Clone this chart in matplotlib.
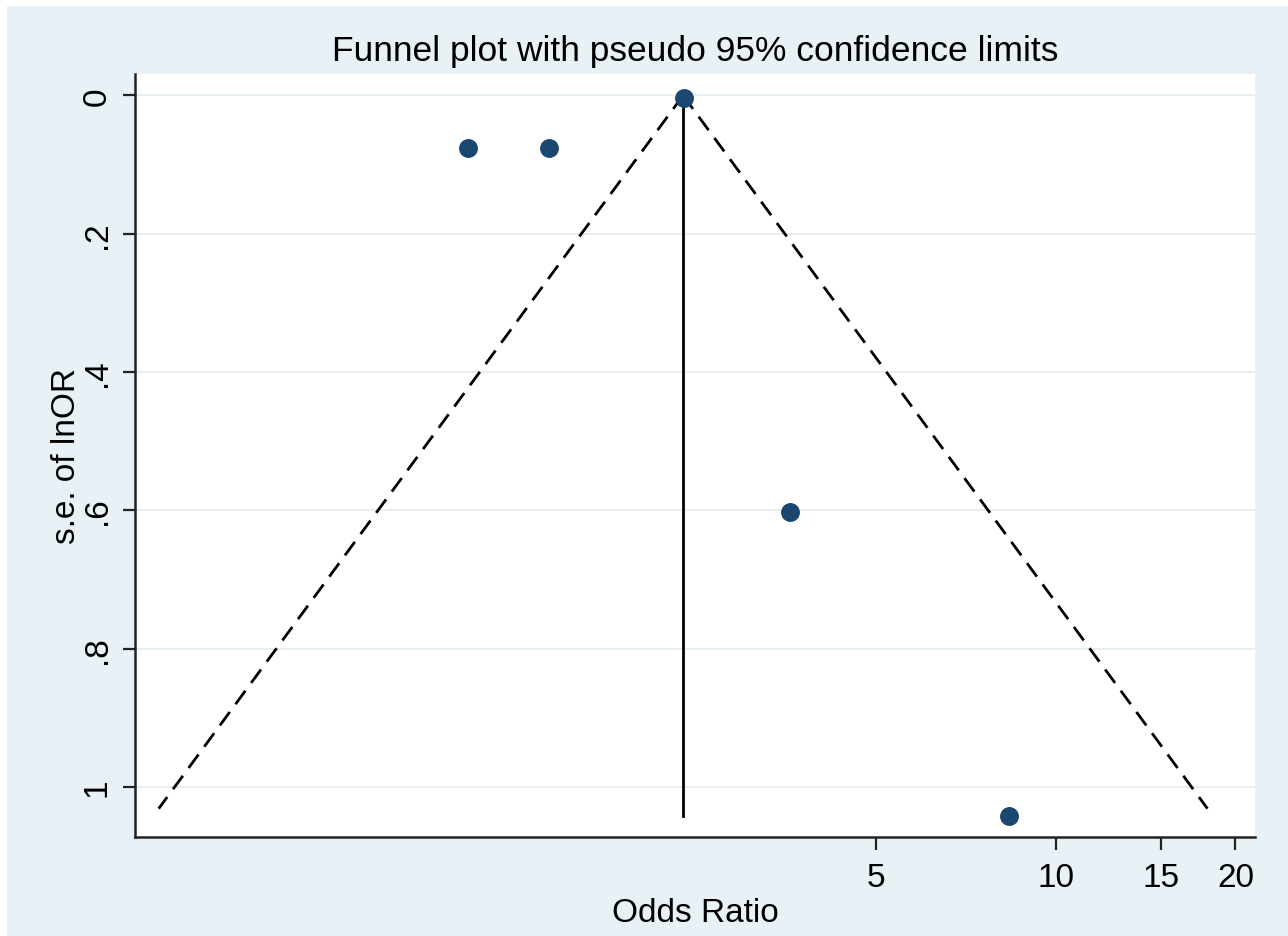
import matplotlib
matplotlib.use('Agg')

import matplotlib.pyplot as plt
import numpy as np
from matplotlib.patches import Rectangle

plt.rcParams['font.family'] = ['Liberation Sans', 'DejaVu Sans']
plt.rcParams['lines.scale_dashes'] = False

# study estimates
odds_ratio = [1.04, 1.42, 2.39, 3.60, 8.37]
se_lnor = [0.076, 0.076, 0.004, 0.602, 1.042]
pooled_or = 2.38
se_funnel = 1.031
se_max = 1.042

xticks = [5, 10, 15, 20]
yticks = [0, 0.2, 0.4, 0.6, 0.8, 1]
ytick_labels = ['0', '.2', '.4', '.6', '.8', '1']

bg = '#e8f1f5'
navy = '#1a476f'

fig = plt.figure(figsize=(12.88, 9.37), dpi=100, facecolor=bg)
fig.patches.append(Rectangle((0, 0), 7 / 1288, 1, transform=fig.transFigure,
                             facecolor='white', edgecolor='none', zorder=-1))
fig.patches.append(Rectangle((0, 1 - 7 / 937), 1, 7 / 937, transform=fig.transFigure,
                             facecolor='white', edgecolor='none', zorder=-1))

ax = fig.add_axes([135 / 1288, 1 - 838 / 937, (1255 - 135) / 1288, (838 - 75) / 937])
ax.set_facecolor('white')

# pseudo 95% limits
z = 1.96
se_line = np.array([0, se_funnel])
ax.plot(pooled_or * np.exp(-z * se_line), se_line, color='black', lw=2.0,
        dashes=(12, 7), zorder=2)
ax.plot(pooled_or * np.exp(z * se_line), se_line, color='black', lw=2.0,
        dashes=(12, 7), zorder=2)
ax.plot([pooled_or, pooled_or], [0, se_max], color='black', lw=2.0, zorder=2)

ax.scatter(odds_ratio, se_lnor, s=185, color=navy, zorder=3, linewidths=0)

ax.set_xscale('log')
ax.set_xlim(np.exp(-1.245), np.exp(3.071))
ax.set_ylim(1.072, -0.031)

ax.set_xticks(xticks)
ax.set_xticklabels([str(t) for t in xticks])
ax.xaxis.set_minor_locator(matplotlib.ticker.NullLocator())
ax.set_yticks(yticks)
ax.set_yticklabels(ytick_labels, rotation=90, va='center')

ax.yaxis.grid(True, color='#e4ecef', lw=1.2)
ax.set_axisbelow(True)

for side in ['top', 'right']:
    ax.spines[side].set_visible(False)
for side in ['left', 'bottom']:
    ax.spines[side].set_linewidth(1.8)
    ax.spines[side].set_color('#222222')

ax.tick_params(axis='both', length=9, width=1.6, labelsize=24, color='#222222', pad=7)
ax.tick_params(axis='x', pad=9)

ax.set_title('Funnel plot with pseudo 95% confidence limits', fontsize=25.5, pad=10)
ax.set_xlabel('Odds Ratio', fontsize=24, labelpad=3)
ax.set_ylabel('s.e. of lnOR', fontsize=24, labelpad=0)

plt.savefig('out.png', dpi=100, facecolor=bg)
